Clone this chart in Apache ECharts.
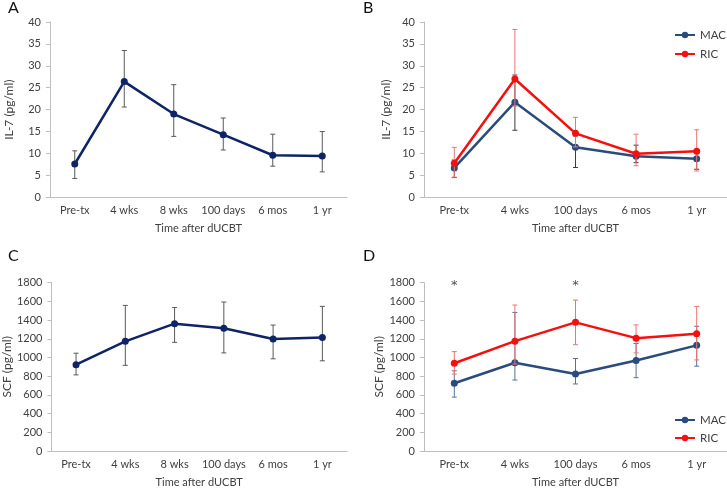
<!DOCTYPE html>
<html>
<head>
<meta charset="utf-8">
<script src="https://cdn.jsdelivr.net/npm/echarts@6/dist/echarts.min.js"></script>
<style>html,body{margin:0;padding:0;background:#fff}#c{width:727px;height:489px}</style>
</head>
<body>
<div id="c"></div>
<script>
// ---- data ----
const catsAC = ['Pre-tx', '4 wks', '8 wks', '100 days', '6 mos', '1 yr'];
const catsBD = ['Pre-tx', '4 wks', '100 days', '6 mos', '1 yr'];

const il7All = [7.6, 26.4, 19.0, 14.3, 9.6, 9.4];
const il7AllLow = [4.3, 20.6, 13.9, 10.8, 7.1, 5.8];
const il7AllHigh = [10.6, 33.5, 25.7, 18.1, 14.4, 15.0];

const il7MAC = [6.7, 21.7, 11.4, 9.35, 8.8];
const il7MACLow = [4.5, 15.3, 6.8, 7.9, 6.4];
const il7MACHigh = [8.5, 27.9, 14.0, 11.9, 10.4];
const il7RIC = [7.76, 27.0, 14.6, 9.95, 10.5];
const il7RICLow = [4.6, 20.8, 11.5, 7.2, 6.0];
const il7RICHigh = [11.4, 38.3, 18.25, 14.4, 15.4];

const scfAll = [923, 1173, 1362, 1312, 1197, 1214];
const scfAllLow = [814, 916, 1162, 1049, 986, 965];
const scfAllHigh = [1046, 1557, 1534, 1593, 1347, 1547];

const scfMAC = [724, 944, 823, 968, 1130];
const scfMACLow = [576, 759, 717, 784, 907];
const scfMACHigh = [858, 1482, 989, 1150, 1334];
const scfRIC = [939, 1175, 1376, 1207, 1254];
const scfRICLow = [823, 930, 1137, 1050, 974];
const scfRICHigh = [1063, 1561, 1614, 1349, 1546];

const starIdx = [0, 2];
const il7Ticks = {min: 0, max: 40, interval: 5};
const scfTicks = {min: 0, max: 1800, interval: 200};

// ---- styles ----
const FONT = 'Lato';
const NAVY = '#0f2466';
const MAC = '#2a4b7e';
const RIC = '#f51010';
const axisGray = '#bfbfbf';
const txt = '#404040';

function errData(lo, hi) { return lo.map((v, i) => [i, v, hi[i]]); }
function errSeries(xi, lo, hi, color, z) {
  return {
    type: 'custom', xAxisIndex: xi, yAxisIndex: xi, z: z, silent: true,
    encode: {x: 0, y: [1, 2]},
    data: errData(lo, hi),
    renderItem: function (params, api) {
      const a = api.coord([api.value(0), api.value(1)]);
      const b = api.coord([api.value(0), api.value(2)]);
      const w = 2.5;
      const st = {stroke: color, lineWidth: 1};
      return {type: 'group', children: [
        {type: 'line', shape: {x1: a[0], y1: a[1], x2: b[0], y2: b[1]}, style: st},
        {type: 'line', shape: {x1: a[0] - w, y1: a[1], x2: a[0] + w, y2: a[1]}, style: st},
        {type: 'line', shape: {x1: b[0] - w, y1: b[1], x2: b[0] + w, y2: b[1]}, style: st}
      ]};
    }
  };
}
function lineSeries(xi, name, data, color, z) {
  return {
    type: 'line', name: name, xAxisIndex: xi, yAxisIndex: xi, z: z,
    data: data, symbol: 'circle', symbolSize: 7,
    itemStyle: {color: color}, lineStyle: {color: color, width: 2.5},
    emphasis: {disabled: true}, animation: false
  };
}
function xAx(gi, cats) {
  return {
    type: 'category', gridIndex: gi, data: cats, boundaryGap: true,
    axisLine: {lineStyle: {color: axisGray, width: 1}},
    axisTick: {show: false},
    axisLabel: {color: txt, fontFamily: FONT, fontSize: 11, margin: 8, interval: 0},
    name: 'Time after dUCBT', nameLocation: 'middle', nameGap: 26,
    nameTextStyle: {color: txt, fontFamily: FONT, fontSize: 11}
  };
}
function yAx(gi, t, name, gap) {
  return {
    type: 'value', gridIndex: gi, min: t.min, max: t.max, interval: t.interval,
    axisLine: {show: true, lineStyle: {color: axisGray, width: 1}},
    axisTick: {show: true, length: 4, lineStyle: {color: axisGray}},
    splitLine: {show: false},
    axisLabel: {color: txt, fontFamily: FONT, fontSize: 11, margin: 9, formatter: v => String(v)},
    name: name, nameLocation: 'middle', nameGap: gap, nameRotate: 90,
    nameTextStyle: {color: txt, fontFamily: FONT, fontSize: 12}
  };
}

const legendBase = {
  orient: 'vertical', itemWidth: 20, itemHeight: 8, padding: 0,
  data: ['MAC', 'RIC'], selectedMode: false,
  textStyle: {color: txt, fontFamily: FONT, fontSize: 11.5}
};

const chart = echarts.init(document.getElementById('c'), null, {renderer: 'canvas'});
chart.setOption({
  animation: false,
  backgroundColor: '#fff',
  grid: [
    {left: 50, top: 22, width: 297, height: 175.3},
    {left: 424, top: 22, width: 303, height: 175.3},
    {left: 50, top: 282.7, width: 297, height: 171},
    {left: 424, top: 282.7, width: 303, height: 170}
  ],
  xAxis: [xAx(0, catsAC), xAx(1, catsBD), xAx(2, catsAC), xAx(3, catsBD)],
  yAxis: [
    yAx(0, il7Ticks, 'IL-7 (pg/ml)', 35),
    yAx(1, il7Ticks, 'IL-7 (pg/ml)', 32),
    yAx(2, scfTicks, 'SCF (pg/ml)', 35),
    yAx(3, scfTicks, 'SCF (pg/ml)', 30)
  ],
  legend: [
    Object.assign({}, legendBase, {left: 674, top: 29, itemGap: 7}),
    Object.assign({}, legendBase, {left: 674, top: 414, itemGap: 6})
  ],
  graphic: [
    {type: 'text', left: 8, top: 0, style: {text: 'A', font: '16px ' + FONT, fill: '#111'}},
    {type: 'text', left: 363, top: 0, style: {text: 'B', font: '16px ' + FONT, fill: '#111'}},
    {type: 'text', left: 8, top: 248, style: {text: 'C', font: '16px ' + FONT, fill: '#111'}},
    {type: 'text', left: 363, top: 248, style: {text: 'D', font: '16px ' + FONT, fill: '#111'}}
  ],
  series: [
    errSeries(0, il7AllLow, il7AllHigh, '#595959', 1),
    lineSeries(0, 'All IL-7', il7All, NAVY, 2),

    errSeries(1, il7MACLow, il7MACHigh, '#3c3c3c', 1),
    lineSeries(1, 'MAC', il7MAC, MAC, 2),
    errSeries(1, il7RICLow, il7RICHigh, '#ef7373', 3),
    lineSeries(1, 'RIC', il7RIC, RIC, 4),

    errSeries(2, scfAllLow, scfAllHigh, '#595959', 1),
    lineSeries(2, 'All SCF', scfAll, NAVY, 2),

    errSeries(3, scfMACLow, scfMACHigh, '#56709a', 1),
    lineSeries(3, 'MAC', scfMAC, MAC, 2),
    errSeries(3, scfRICLow, scfRICHigh, '#ef7373', 3),
    lineSeries(3, 'RIC', scfRIC, RIC, 4),

    {type: 'scatter', xAxisIndex: 3, yAxisIndex: 3, symbolSize: 0, silent: true,
      data: starIdx.map(i => [i, scfTicks.max]),
      label: {show: true, position: 'inside', offset: [0, 3], formatter: '*',
        color: '#222', fontFamily: 'DejaVu Sans', fontSize: 13}}
  ]
});
</script>
</body>
</html>
